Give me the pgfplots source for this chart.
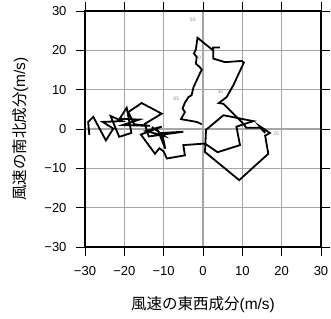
\documentclass[border=0pt]{standalone}
\usepackage{fontspec}
\setmainfont{Liberation Sans}
\newfontfamily\jp{Noto Sans CJK JP}
\usepackage{pgfplots}
\pgfplotsset{compat=1.18}
\begin{document}
\begin{tikzpicture}[x=1pt,y=1pt]
\begin{axis}[
  scale only axis, width=236pt, height=236pt,
  xmin=-30,xmax=30,ymin=-30,ymax=30,
  xtick={-30,-20,-10,0,10,20,30}, ytick={-30,-20,-10,0,10,20,30},
  xticklabels={−30,−20,−10,0,10,20,30},
  yticklabels={−30,−20,−10,0,10,20,30},
  tick align=outside, major tick length=9pt,
  tick style={black, line width=0.9pt},
  grid=major, major grid style={black!35, line width=1.4pt},
  axis line style={line width=1.6pt},
  tick label style={font=\fontsize{13}{13}\selectfont},
  xticklabel style={yshift=-7pt},
  yticklabel style={xshift=-6pt},
  xlabel={{\jp 風速の東西成分}(m/s)},
  ylabel={{\jp 風速の南北成分}(m/s)},
  label style={font=\fontsize{15.5}{15.5}\selectfont},
  xlabel style={at={(axis description cs:0.5,-0.246)},anchor=center},
  ylabel style={at={(axis description cs:-0.275,0.5)},anchor=center,rotate=0},
  clip=false,
]
\node[font=\fontsize{5}{5}\selectfont, text=black!45] at (axis cs:-2.6,27.8) {50};
\node[font=\fontsize{5}{5}\selectfont, text=black!45] at (axis cs:-6.8,7.6) {85};
\node[font=\fontsize{5}{5}\selectfont, text=black!45] at (axis cs:4.4,9.4) {30};
\node[font=\fontsize{5}{5}\selectfont, text=black!45] at (axis cs:-1.2,18.1) {70};
\node[font=\fontsize{5}{5}\selectfont, text=black!45] at (axis cs:18.6,-1.3) {20};
\addplot[black, line width=1.8pt, line join=miter, mark=none] coordinates {
(-0.3,1.2) (-1.6,1.8) (-5.6,2.5) (-4.6,4.3) (-5.2,5.2) (-4.6,6.7) (-3.7,8.1)
(-2.9,8.6) (-2.4,10.7) (-2.0,11.5) (-0.8,14.1) (-0.3,15.1) (-0.9,15.8)
(-1.8,16.6) (-1.6,18.3) (-2.3,19.2) (-1.8,20.3) (-1.4,23.2) (2.3,20.2)
(2.6,20.7) (4.3,20.7) (2.6,20.7) (2.6,17.9) (5.6,17.0) (9.8,17.3) (10.4,16.9)
(7.7,11.1) (6.0,8.1) (4.0,6.6) (5.2,6.4) (10.3,1.3) (11.0,0.3) (14.6,0.3)
(15.8,-1.0) (14.3,0.8) (17.0,-1.0) (15.8,-1.7) (16.6,-6.3) (9.2,-13.0)
(0.5,-5.85) (0.77,-0.2) (5.2,3.5) (12.8,2.0) (8.5,0.6) (9.4,-4.1) (3.7,-5.9)
(0.5,-3.7) (-5.0,-4.1) (-4.6,-6.7) (-9.2,-7.5) (-10.0,-5.7) (-11.1,-4.9)
(-12.2,-6.3) (-15.8,-1.4) (-10.5,0.6) (-14.5,-0.5) (-9.8,-1.8) (-13.0,0.5)
(-11.4,-0.5) (-9.6,-5.0) (-10.4,-1.0) (-5.0,-0.7) (-13.8,-1.9) (-14.8,1.3)
(-10.5,3.9) (-15.6,6.6) (-19.0,4.3) (-17.5,1.2) (-13.5,0.8) (-20.4,1.0)
(-16.2,2.4) (-21.2,2.6) (-19.4,5.4) (-18.2,-1.0) (-21.3,-2.0) (-23.5,3.3)
(-20.5,2.0) (-25.5,1.8) (-22.8,0.1) (-24.7,-2.9)
(-27.9,3.1) (-29.2,1.8) (-28.9,-1.5)
};
\end{axis}
\pgfresetboundingbox
\useasboundingbox (-85,-71) rectangle (246,247);
\end{tikzpicture}
\end{document}
